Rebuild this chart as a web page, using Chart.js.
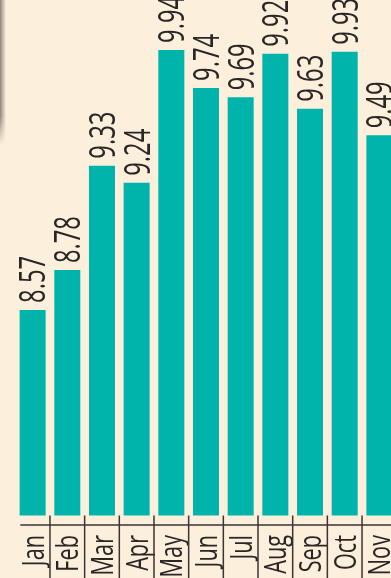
<!DOCTYPE html>
<html lang="en">
<head>
<meta charset="UTF-8">
<title>Monthly values</title>
<script src="https://cdn.jsdelivr.net/npm/chart.js"></script>
<style>
  html, body { margin: 0; padding: 0; background: #fcefdc; overflow: hidden; }
  #wrap { position: absolute; left: 0; top: 0; width: 400px; height: 578px; }
  #shade { position: absolute; left: 0; top: 0; width: 6px; height: 145px;
           background: linear-gradient(to right, rgba(110,100,90,0.75), rgba(110,100,90,0));
           -webkit-mask-image: linear-gradient(to bottom, #000 80%, transparent); z-index: 2; }
</style>
</head>
<body>
<div id="shade"></div>
<div id="wrap"><canvas id="chart_bars"></canvas></div>
<script>
var months = ['Jan', 'Feb', 'Mar', 'Apr', 'May', 'Jun', 'Jul', 'Aug', 'Sep', 'Oct', 'Nov'];
var values = [8.57, 8.78, 9.33, 9.24, 9.94, 9.74, 9.69, 9.92, 9.63, 9.93, 9.49];

var fontName = '"Open Sans", "DejaVu Sans", sans-serif';
var inkColor = '#2b2626';

// text written upward, squeezed along its length to look condensed
function upText(ctx, text, x, y, size, align, squeeze) {
    ctx.save();
    ctx.font = size + 'px ' + fontName;
    ctx.textAlign = align;
    ctx.textBaseline = 'alphabetic';
    ctx.translate(x + size * 0.357, y);
    ctx.rotate(-Math.PI / 2);
    ctx.scale(squeeze, 1);
    ctx.fillText(text, 0, 0);
    ctx.restore();
}

var barExtras = {
    id: 'barExtras',
    afterDatasetsDraw: function (chart) {
        var ctx = chart.ctx;
        var meta = chart.getDatasetMeta(0);
        ctx.save();
        ctx.fillStyle = inkColor;
        meta.data.forEach(function (bar, i) {
            upText(ctx, values[i].toFixed(2), bar.x, bar.y - 7, 36, 'left', 0.66);
        });
        ctx.restore();
    },
    afterDraw: function (chart) {
        var ctx = chart.ctx;
        var xs = chart.scales.x;
        var area = chart.chartArea;
        var step = xs.getPixelForValue(1) - xs.getPixelForValue(0);
        ctx.save();
        // month names under the axis
        ctx.fillStyle = inkColor;
        for (var k = 0; k < months.length; k++) {
            upText(ctx, xs.getLabelForValue(k), xs.getPixelForTick(k), area.bottom + 19.5, 31, 'right', 0.7);
        }
        // axis line and separators
        ctx.strokeStyle = '#3b3535';
        ctx.lineWidth = 1.5;
        ctx.beginPath();
        ctx.moveTo(area.left + 5, area.bottom + 9.5);
        ctx.lineTo(chart.width, area.bottom + 9.5);
        for (var i = 1; i < months.length; i++) {
            var x = xs.getPixelForValue(i) - step / 2;
            ctx.moveTo(x, area.bottom);
            ctx.lineTo(x, chart.height);
        }
        ctx.stroke();
        ctx.restore();
    }
};

var ctx_bars = document.getElementById('chart_bars').getContext('2d');
var chart_bars = new Chart(ctx_bars, {
    type: 'bar',
    data: {
        labels: months,
        datasets: [{
            data: values,
            backgroundColor: '#00b4ac',
            borderWidth: 0,
            barPercentage: 0.75,
            categoryPercentage: 1
        }]
    },
    options: {
        responsive: true,
        maintainAspectRatio: false,
        animation: false,
        layout: { padding: { left: 15.3, right: 3.3, top: 0, bottom: 0 } },
        plugins: { legend: { display: false }, tooltip: { enabled: false } },
        scales: {
            y: { display: false, min: 7.487, max: 10.203 },
            x: {
                grid: { display: false, drawTicks: false },
                border: { display: false },
                afterFit: function (scale) {
                    scale.height = 62.5;
                    scale.paddingLeft = 0;
                    scale.paddingRight = 0;
                },
                ticks: { display: false, autoSkip: false }
            }
        }
    },
    plugins: [barExtras]
});
</script>
</body>
</html>
